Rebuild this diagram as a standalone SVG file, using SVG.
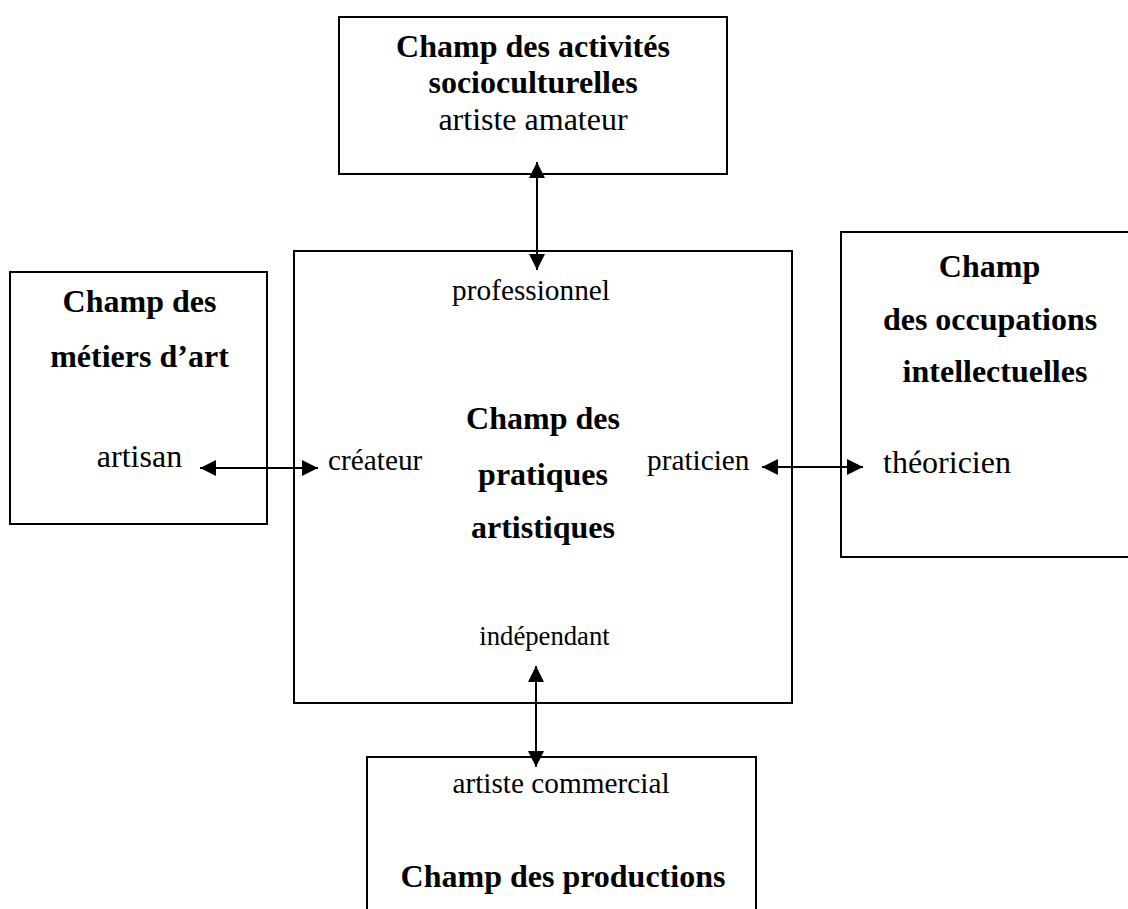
<svg xmlns="http://www.w3.org/2000/svg" width="1128" height="909" viewBox="0 0 1128 909">
<style>
.box{fill:#fff;stroke:#000;stroke-width:2}
text{font-family:"Liberation Serif","Times New Roman",serif;fill:#000}
.b{font-weight:bold;font-size:32px}
.r{font-size:32px}
.s{font-size:29.3px}
.xs{font-size:26.7px}
.c{text-anchor:middle}
.conn{stroke:#000;stroke-width:2;fill:none;marker-start:url(#ah);marker-end:url(#ah)}
</style>
<defs>
<marker id="ah" viewBox="0 0 16 16" refX="16" refY="8" markerWidth="16" markerHeight="16" markerUnits="userSpaceOnUse" orient="auto-start-reverse">
<path d="M0,0 L16,8 L0,16 Z" fill="#000"/>
</marker>
</defs>
<rect width="1128" height="909" fill="#fff"/>
<g id="node-socioculturelles">
<rect class="box" x="339" y="17" width="388" height="157"/>
<text class="b c" x="533" y="57">Champ des activités</text>
<text class="b c" x="533" y="93">socioculturelles</text>
<text class="r c" x="533" y="130">artiste amateur</text>
</g>
<g id="node-metiers">
<rect class="box" x="10" y="272" width="257" height="252"/>
<text class="b c" x="139.5" y="312">Champ des</text>
<text class="b c" x="139.5" y="367">métiers d’art</text>
<text class="r c" x="139.5" y="467">artisan</text>
</g>
<g id="node-pratiques">
<rect class="box" x="294" y="251" width="498" height="452"/>
<text class="s c" x="531" y="300">professionnel</text>
<text class="b c" x="543" y="429">Champ des</text>
<text class="b c" x="543" y="485">pratiques</text>
<text class="b c" x="543" y="538">artistiques</text>
<text class="s" x="328" y="470">créateur</text>
<text class="s" x="647" y="470">praticien</text>
<text class="xs c" x="544.5" y="645">indépendant</text>
</g>
<g id="node-intellectuelles">
<rect class="box" x="841" y="232" width="300" height="325"/>
<text class="b c" x="989.5" y="277">Champ</text>
<text class="b c" x="990" y="330">des occupations</text>
<text class="b c" x="995" y="382">intellectuelles</text>
<text class="r" x="883" y="473">théoricien</text>
</g>
<g id="node-productions">
<rect class="box" x="367" y="757" width="389" height="170"/>
<text class="s c" x="561" y="793">artiste commercial</text>
<text class="b c" x="563" y="887">Champ des productions</text>
</g>
<g id="connectors">
<line class="conn" x1="537" y1="162" x2="537" y2="270"/>
<line class="conn" x1="200" y1="468" x2="318" y2="468"/>
<line class="conn" x1="762" y1="467" x2="863" y2="467"/>
<line class="conn" x1="536" y1="666" x2="536" y2="767"/>
</g>
</svg>
